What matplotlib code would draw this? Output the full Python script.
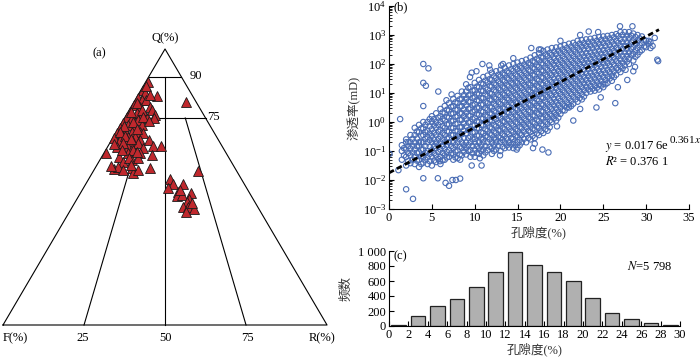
import matplotlib
matplotlib.use('Agg')
import matplotlib.pyplot as plt
from matplotlib.ticker import FixedLocator, FixedFormatter, LogLocator, NullFormatter
import numpy as np

plt.rcParams['font.family'] = ['Liberation Serif', 'Noto Sans CJK SC']
plt.rcParams['mathtext.fontset'] = 'stix'
plt.rcParams['font.size'] = 9

# ---------------- (a) ternary Q-F-R ----------------
# each sample: Q% and R% (F% = 100 - Q - R)
tern_Q = [88.2, 83.0, 80.9, 85.1, 84.2, 82.1, 81.5, 81.5, 79.7, 79.1, 79.1, 77.3, 76.7, 76.7,
          77.9, 76.1, 75.5, 74.9, 74.3, 74.9, 74.9, 73.1, 72.5, 71.9, 72.5, 71.3, 70.7, 70.0,
          70.0, 69.4, 68.8, 68.2, 68.2, 69.4, 67.6, 67.0, 67.0, 66.4, 67.0, 67.0, 64.6, 64.6,
          64.6, 65.8, 64.0, 64.9, 65.0, 62.4, 62.2, 63.4, 62.2, 61.6, 61.0, 58.9, 59.8, 60.4,
          56.4, 57.4, 56.2, 56.8, 55.0, 56.2, 56.8, 55.8,
          52.9, 51.0, 49.8, 51.0, 48.3, 46.7, 47.1, 47.9, 45.5, 44.7, 42.9, 42.6, 41.9, 40.8,
          44.1, 48.9,
          86.5, 83.5, 80.5, 78.0, 77.0, 75.5, 73.5, 72.0, 71.0, 69.8, 68.5, 67.5, 66.0, 65.5,
          63.5, 62.8, 60.5, 58.0, 57.5, 74.0]
tern_R = [0.5, 5.9, 16.0, 0.5, 1.7, 0.5, 2.0, 3.5, 0.5, 2.7, 5.8, 0.5, 2.9, 4.9,
          6.9, 8.9, 0.5, 2.3, 4.6, 6.9, 9.0, 0.5, 2.4, 4.8, 6.5, 0.5, 2.3, 4.7,
          7.3, 0.5, 2.2, 4.6, 6.6, 8.6, 0.5, 2.6, 4.7, 7.0, 8.8, 11.4, 2.8, 6.4,
          7.9, 8.9, 11.3, 13.7, 16.2, 0.5, 7.6, 8.5, 11.2, 15.1, 5.3, 7.7, 9.8, 11.6,
          5.9, 6.9, 9.0, 11.3, 12.7, 13.7, 17.0, 32.2,
          25.1, 27.1, 26.1, 30.0, 30.0, 30.2, 31.6, 34.0, 34.7, 34.5, 34.0, 35.9, 38.0, 36.0,
          36.2, 30.2,
          1.0, 3.5, 1.0, 4.0, 1.0, 5.5, 3.5, 1.2, 5.8, 1.3, 3.4, 5.8, 4.0, 1.5,
          5.0, 10.0, 8.5, 10.5, 4.5, 8.0]

# ---------------- (b) porosity vs permeability ----------------
# log10 permeability (mD), read column by column; first set at phi = 1.5, 2.0 ... 30.5 %
phi_cols_a = np.arange(1.5, 30.75, 0.5)
logk_cols_a = [
    [-0.8, -1.0, -1.3],
    [-0.6, -0.7, -0.95, -1.2, -1.5],
    [-0.45, -0.7, -0.92, -1.15, -1.42],
    [-0.2, -0.45, -0.7, -0.95, -1.2, -1.45],
    [-0.1, -0.35, -0.7, -0.82, -1.05, -1.3, -1.55],
    [0.0, -0.22, -0.45, -0.7, -0.95, -1.2, -1.4],
    [0.0, -0.3, -0.52, -0.7, -1.0, -1.22, -1.45],
    [0.2, 0.0, -0.25, -0.48, -0.7, -0.97, -1.2, -1.5],
    [0.3, 0.0, -0.2, -0.45, -0.7, -0.9, -1.15, -1.38],
    [0.45, 0.2, 0.0, -0.27, -0.5, -0.7, -0.95, -1.2, -1.45],
    [0.55, 0.3, 0.05, -0.2, -0.45, -0.7, -0.92, -1.15, -1.3],
    [0.65, 0.4, 0.15, -0.08, -0.33, -0.55, -0.7, -0.97, -1.2],
    [0.8, 0.55, 0.3, 0.05, -0.2, -0.45, -0.7, -0.9, -1.12, -1.3],
    [0.9, 0.65, 0.42, 0.2, -0.05, -0.3, -0.5, -0.7, -0.98, -1.25],
    [1.05, 0.8, 0.55, 0.3, 0.08, -0.17, -0.42, -0.7, -0.9, -1.15],
    [1.3, 1.05, 0.8, 0.58, 0.33, 0.1, -0.15, -0.4, -0.7, -0.9, -1.12],
    [1.2, 0.95, 0.7, 0.47, 0.22, 0.0, -0.25, -0.5, -0.7, -0.97, -1.2],
    [1.35, 1.1, 0.87, 0.62, 0.4, 0.15, -0.1, -0.35, -0.58, -0.7, -0.95, -1.2],
    [1.45, 1.2, 0.95, 0.73, 0.48, 0.25, 0.0, -0.22, -0.47, -0.7, -0.9, -1.1],
    [1.55, 1.3, 1.07, 0.82, 0.6, 0.35, 0.12, -0.12, -0.38, -0.6, -0.7, -0.95, -1.15],
    [1.6, 1.37, 1.12, 0.9, 0.65, 0.42, 0.18, -0.05, -0.3, -0.52, -0.7, -0.97],
    [1.7, 1.45, 1.22, 0.97, 0.75, 0.5, 0.27, 0.02, -0.22, -0.45, -0.7, -0.9, -1.1],
    [1.75, 1.52, 1.28, 1.05, 0.8, 0.57, 0.33, 0.1, -0.15, -0.38, -0.6, -0.7, -0.95],
    [1.8, 1.57, 1.33, 1.1, 0.87, 0.62, 0.4, 0.15, -0.08, -0.3, -0.55, -0.7, -1.0],
    [1.87, 1.63, 1.4, 1.17, 0.93, 0.7, 0.46, 0.22, 0.0, -0.25, -0.48, -0.7, -0.9],
    [1.95, 1.7, 1.47, 1.23, 1.0, 0.77, 0.53, 0.3, 0.05, -0.18, -0.42, -0.7, -0.88],
    [2.0, 1.76, 1.52, 1.3, 1.06, 0.82, 0.6, 0.35, 0.12, -0.12, -0.35, -0.58, -0.7, -0.9],
    [2.05, 1.82, 1.58, 1.35, 1.12, 0.88, 0.65, 0.42, 0.18, -0.05, -0.3, -0.52, -0.7, -0.88],
    [2.1, 1.87, 1.63, 1.4, 1.17, 0.93, 0.7, 0.47, 0.23, 0.0, -0.22, -0.45, -0.7],
    [2.15, 1.92, 1.68, 1.45, 1.22, 0.98, 0.75, 0.52, 0.28, 0.05, -0.18, -0.42, -0.7],
    [2.22, 1.98, 1.75, 1.52, 1.28, 1.05, 0.82, 0.58, 0.35, 0.12, -0.12, -0.35, -0.6],
    [2.3, 2.06, 1.83, 1.6, 1.36, 1.13, 0.9, 0.66, 0.43, 0.2, -0.05, -0.28, -0.55],
    [2.37, 2.13, 1.9, 1.67, 1.43, 1.2, 0.97, 0.73, 0.5, 0.27, 0.03, -0.2, -0.45],
    [2.45, 2.22, 1.98, 1.75, 1.52, 1.28, 1.05, 0.82, 0.58, 0.35, 0.12, -0.12, -0.38],
    [2.5, 2.27, 2.03, 1.8, 1.57, 1.33, 1.1, 0.87, 0.63, 0.4, 0.17, -0.07, -0.3],
    [2.55, 2.32, 2.08, 1.85, 1.62, 1.38, 1.15, 0.92, 0.68, 0.45, 0.22, 0.0],
    [2.57, 2.34, 2.1, 1.87, 1.64, 1.4, 1.17, 0.94, 0.7, 0.47, 0.25, 0.05],
    [2.6, 2.37, 2.13, 1.9, 1.67, 1.43, 1.2, 0.97, 0.73, 0.5, 0.28],
    [2.65, 2.42, 2.18, 1.95, 1.72, 1.48, 1.25, 1.02, 0.78, 0.55, 0.4],
    [2.7, 2.47, 2.23, 2.0, 1.77, 1.53, 1.3, 1.07, 0.83, 0.6, 0.5],
    [2.73, 2.5, 2.27, 2.03, 1.8, 1.57, 1.33, 1.1, 0.87, 0.63],
    [2.8, 2.56, 2.33, 2.1, 1.86, 1.63, 1.4, 1.16, 0.93, 0.7],
    [2.82, 2.6, 2.36, 2.13, 1.9, 1.66, 1.43, 1.2, 0.96, 0.78],
    [2.85, 2.62, 2.38, 2.15, 1.92, 1.68, 1.45, 1.22, 1.0],
    [2.87, 2.64, 2.4, 2.17, 1.94, 1.7, 1.47, 1.24, 1.05],
    [2.9, 2.67, 2.43, 2.2, 1.97, 1.73, 1.5, 1.27, 1.08],
    [2.93, 2.7, 2.46, 2.23, 2.0, 1.76, 1.53, 1.3, 1.12],
    [2.95, 2.72, 2.48, 2.25, 2.02, 1.78, 1.55, 1.32, 1.2],
    [2.97, 2.74, 2.5, 2.27, 2.04, 1.8, 1.57, 1.35],
    [3.0, 2.77, 2.53, 2.3, 2.07, 1.83, 1.6, 1.42],
    [3.03, 2.8, 2.56, 2.33, 2.1, 1.86, 1.63],
    [3.1, 2.86, 2.63, 2.4, 2.16, 1.93, 1.72],
    [3.1, 2.87, 2.63, 2.4, 2.17, 1.95],
    [3.1, 2.88, 2.64, 2.4, 2.18, 2.0],
    [3.05, 2.82, 2.58, 2.35, 2.12],
    [3.0, 2.78, 2.55, 2.32],
    [2.95, 2.72, 2.48],
    [2.8, 2.58],
    [2.75, 2.55],
]
# second set, between the first: phi = 1.75, 2.25 ... 30.75 %
phi_cols_b = np.arange(1.75, 31.0, 0.5)
logk_cols_b = [
    [-0.9, -1.15],
    [-0.7, -0.83, -1.07, -1.35],
    [-0.58, -0.82, -1.05, -1.3],
    [-0.33, -0.57, -0.83, -1.07, -1.33],
    [-0.22, -0.47, -0.7, -0.95, -1.18, -1.45],
    [-0.1, -0.35, -0.58, -0.83, -1.07, -1.3],
    [0.1, -0.15, -0.4, -0.62, -0.85, -1.1, -1.35],
    [0.1, -0.12, -0.37, -0.6, -0.83, -1.08, -1.33],
    [0.15, -0.1, -0.33, -0.58, -0.8, -1.03, -1.27],
    [0.33, 0.1, -0.15, -0.38, -0.6, -0.83, -1.07, -1.32],
    [0.42, 0.18, -0.08, -0.32, -0.57, -0.8, -1.03, -1.22],
    [0.52, 0.28, 0.03, -0.2, -0.45, -0.83, -1.08],
    [0.68, 0.43, 0.18, -0.07, -0.32, -0.57, -0.8, -1.02, -1.22],
    [0.78, 0.53, 0.3, 0.08, -0.18, -0.4, -0.6, -0.85, -1.12],
    [0.93, 0.68, 0.43, 0.2, -0.05, -0.3, -0.55, -0.8, -1.02],
    [1.18, 0.92, 0.7, 0.45, 0.22, -0.02, -0.28, -0.55, -0.8, -1.0],
    [1.08, 0.83, 0.58, 0.35, 0.1, -0.12, -0.37, -0.6, -0.83, -1.08],
    [1.22, 0.98, 0.75, 0.5, 0.28, 0.03, -0.22, -0.47, -0.83, -1.07],
    [1.33, 1.08, 0.83, 0.6, 0.37, 0.12, -0.1, -0.35, -0.58, -0.8, -1.0],
    [1.43, 1.18, 0.95, 0.7, 0.48, 0.23, 0.0, -0.25, -0.48, -0.83, -1.05],
    [1.48, 1.25, 1.0, 0.78, 0.53, 0.3, 0.06, -0.18, -0.4, -0.6, -0.85],
    [1.58, 1.33, 1.1, 0.85, 0.63, 0.38, 0.15, -0.1, -0.33, -0.57, -0.8, -1.0],
    [1.63, 1.4, 1.16, 0.93, 0.68, 0.45, 0.22, -0.03, -0.27, -0.5, -0.82],
    [1.68, 1.45, 1.22, 0.98, 0.75, 0.5, 0.27, 0.03, -0.2, -0.42, -0.62, -0.85],
    [1.75, 1.52, 1.28, 1.05, 0.82, 0.58, 0.34, 0.1, -0.12, -0.36, -0.58, -0.8],
    [1.82, 1.58, 1.35, 1.12, 0.88, 0.65, 0.42, 0.18, -0.06, -0.3, -0.55, -0.78],
    [1.88, 1.64, 1.4, 1.18, 0.94, 0.7, 0.47, 0.23, 0.0, -0.24, -0.47, -0.8],
    [1.93, 1.7, 1.47, 1.23, 1.0, 0.77, 0.53, 0.3, 0.06, -0.17, -0.4, -0.62, -0.8],
    [1.98, 1.75, 1.52, 1.28, 1.05, 0.82, 0.58, 0.35, 0.12, -0.1, -0.33, -0.58],
    [2.03, 1.8, 1.57, 1.33, 1.1, 0.87, 0.63, 0.4, 0.17, -0.06, -0.3, -0.55],
    [2.1, 1.87, 1.63, 1.4, 1.17, 0.93, 0.7, 0.47, 0.23, 0.0, -0.23, -0.48],
    [2.18, 1.95, 1.72, 1.48, 1.25, 1.02, 0.78, 0.55, 0.32, 0.08, -0.16, -0.4],
    [2.25, 2.02, 1.78, 1.55, 1.32, 1.08, 0.85, 0.62, 0.38, 0.15, -0.08, -0.32],
    [2.33, 2.1, 1.87, 1.63, 1.4, 1.17, 0.93, 0.7, 0.47, 0.23, 0.0, -0.25],
    [2.38, 2.15, 1.92, 1.68, 1.45, 1.22, 0.98, 0.75, 0.52, 0.28, 0.05, -0.18],
    [2.43, 2.2, 1.97, 1.73, 1.5, 1.27, 1.03, 0.8, 0.57, 0.33, 0.12],
    [2.46, 2.22, 1.99, 1.76, 1.52, 1.29, 1.06, 0.82, 0.59, 0.36, 0.15],
    [2.5, 2.27, 2.03, 1.8, 1.57, 1.33, 1.1, 0.87, 0.63, 0.4],
    [2.55, 2.32, 2.08, 1.85, 1.62, 1.38, 1.15, 0.92, 0.68, 0.5],
    [2.6, 2.37, 2.13, 1.9, 1.67, 1.43, 1.2, 0.97, 0.73, 0.55],
    [2.65, 2.42, 2.18, 1.95, 1.72, 1.48, 1.25, 1.02, 0.78],
    [2.7, 2.47, 2.23, 2.0, 1.77, 1.53, 1.3, 1.07, 0.83],
    [2.72, 2.5, 2.26, 2.03, 1.8, 1.56, 1.33, 1.1, 0.88],
    [2.75, 2.52, 2.28, 2.05, 1.82, 1.58, 1.35, 1.12],
    [2.77, 2.54, 2.3, 2.07, 1.84, 1.6, 1.37, 1.15],
    [2.8, 2.57, 2.33, 2.1, 1.87, 1.63, 1.4, 1.18],
    [2.83, 2.6, 2.36, 2.13, 1.9, 1.66, 1.43, 1.25],
    [2.85, 2.62, 2.38, 2.15, 1.92, 1.68, 1.45, 1.3],
    [2.88, 2.65, 2.42, 2.18, 1.95, 1.72, 1.5],
    [2.92, 2.68, 2.45, 2.22, 1.98, 1.75, 1.55],
    [2.97, 2.73, 2.5, 2.27, 2.03, 1.8],
    [3.0, 2.75, 2.52, 2.28, 2.05, 1.85],
    [2.98, 2.75, 2.52, 2.28, 2.08],
    [2.98, 2.75, 2.52, 2.3],
    [2.93, 2.7, 2.47, 2.25],
    [2.88, 2.65, 2.42],
    [2.83, 2.6],
    [2.7],
    [2.62],
]
# scattered points away from the main band
phi_out = [0.05, 1.1, 1.3, 2.0, 2.8, 4.0, 4.6, 4.0, 4.3, 5.75, 4.0, 4.0, 5.7, 10.9, 11.7,
           10.2, 9.65, 10.8, 6.6, 7.4, 7.0, 8.3, 7.8, 17.5, 17.7, 13.3, 16.8, 18.6, 17.9,
           21.5, 24.2, 26.4, 26.95, 28.4, 31.3, 30.3, 31.0, 28.7, 28.5, 27.6, 31.4,
           6.7, 7.3, 9.45, 9.65, 11.8, 13.1, 14.5, 16.6, 20.0, 22.3, 23.3, 24.4,
           5.95, 8.3, 10.6, 12.95, 14.9, 17.0, 19.6, 22.3, 24.7, 26.7, 27.8]
logk_out = [-1.1, -1.66, 0.1, -2.32, -2.65, 2.0, 1.85, 1.35, 1.25, 1.05, 0.55, -1.94,
            -1.94, 2.0, 1.95, 1.75, -1.5, -1.5, -2.1, -2.0, -2.2, -1.95, -2.0, 2.5, 2.5,
            2.0, -0.9, -1.05, -0.95, 0.05, 0.5, 0.65, 3.3, 3.3, 2.15, 2.8, 2.9, 1.9, 1.75,
            1.8, 2.1,
            0.75, 0.95, 1.55, 1.7, 1.8, 1.95, 2.2, 2.55, 2.8, 3.0, 3.12, 3.1,
            -1.35, -1.3, -1.25, -1.15, -0.95, -0.75, -0.15, 0.45, 0.85, 1.2, 1.45]
fit_a, fit_b = 0.0176, 0.361

# ---------------- (c) porosity histogram ----------------
bin_left = np.arange(0, 30, 2)
counts = [15, 140, 262, 364, 520, 716, 992, 815, 722, 602, 372, 172, 95, 42, 15]

fig = plt.figure(figsize=(7, 3.57), dpi=100)

# ===== (a) =====
ax_a = fig.add_axes([0, 0, 340/700, 1])
ax_a.set_xlim(-0.93, 104.0)
ax_a.set_ylim(-10.04, 101.97)
ax_a.axis('off')
h = np.sqrt(3)/2
lw = 0.8
ax_a.plot([0, 100, 50, 0], [0, 0, 100*h, 0], color='k', lw=lw)
ax_a.plot([45, 55], [90*h, 90*h], color='k', lw=lw)
ax_a.plot([37.5, 62.5], [75*h, 75*h], color='k', lw=lw)
ax_a.plot([50, 50], [0, 90*h], color='k', lw=lw)
ax_a.plot([25, 6.25+37.5], [0, 75*h], color='k', lw=lw)
ax_a.plot([75, 18.75+37.5], [0, 75*h], color='k', lw=lw)
Q = np.array(tern_Q)
R = np.array(tern_R)
ax_a.plot(R + Q/2, Q*h, ls='none', marker='^', ms=7.4, mfc='#c0282d', mec='#1a1a1a', mew=0.6)
ax_a.text(50, 90.0, 'Q(%)', ha='center', va='center', fontsize=9)
ax_a.text(29.6, 85.3, '(a)', ha='center', va='center', fontsize=9)
ax_a.text(57.7, 78.1, '90', ha='left', va='center', fontsize=9)
ax_a.text(63.0, 65.3, '75', ha='left', va='center', fontsize=9)
for xx, s in [(3.7, 'F(%)'), (24.7, '25'), (50, '50'), (75.3, '75'), (98.5, 'R(%)')]:
    ax_a.text(xx, -4.1, s, ha='center', va='center', fontsize=9)

# ===== (b) =====
ax_b = fig.add_axes([389/700, 1-209/357, 300/700, 203/357])
xs, ys = [], []
for cols_x, cols_y in [(phi_cols_a, logk_cols_a), (phi_cols_b, logk_cols_b)]:
    for p, col in zip(cols_x, cols_y):
        xs += [p]*len(col)
        ys += col
xs += phi_out
ys += logk_out
ax_b.scatter(xs, 10**np.array(ys), s=15, facecolors='none', edgecolors='#4a6db5',
             linewidths=0.8, zorder=2)
xf = np.linspace(0, 31.5, 100)
ax_b.plot(xf, fit_a*np.exp(fit_b*xf), color='k', lw=2, dashes=(2, 1.2), zorder=3)
ax_b.set_yscale('log')
ax_b.set_xlim(0, 35)
ax_b.set_ylim(1e-3, 1e4)
ax_b.xaxis.set_major_locator(FixedLocator(range(0, 36, 5)))
ax_b.yaxis.set_major_locator(LogLocator(base=10, numticks=10))
ax_b.yaxis.set_minor_locator(LogLocator(base=10, subs=np.arange(2, 10), numticks=20))
ax_b.yaxis.set_minor_formatter(NullFormatter())
for s in ['top', 'right']:
    ax_b.spines[s].set_visible(False)
ax_b.tick_params(axis='both', direction='in', labelsize=9, pad=2, width=0.8)
ax_b.tick_params(axis='y', which='minor', direction='in', length=2)
ax_b.set_xlabel('孔隙度(%)', fontsize=9, labelpad=1, color='#333333')
ax_b.set_ylabel('渗透率(mD)', fontsize=9, labelpad=1, color='#333333')
ax_b.text(1.4, 10**3.95, '(b)', ha='center', va='center', fontsize=9)
t_fit = ax_b.text(25.2, 10**-0.85, '$y$ = 0.017 6e', ha='left', va='center', fontsize=9)
ax_b.annotate('0.361$x$', xy=(1.0, 0.6), xycoords=t_fit, ha='left', va='bottom', fontsize=8)
ax_b.text(25.2, 10**-1.35, '$R$² = 0.376 1', ha='left', va='center', fontsize=9)

# ===== (c) =====
ax_c = fig.add_axes([389/700, 1-326/357, 291/700, 75/357])
ax_c.bar(bin_left + 1, counts, width=1.5, color='#b0b0b0', edgecolor='#222222', linewidth=0.9)
ax_c.set_xlim(0, 30)
ax_c.set_ylim(0, 1000)
ax_c.xaxis.set_major_locator(FixedLocator(range(0, 31, 2)))
ax_c.yaxis.set_major_locator(FixedLocator(range(0, 1001, 200)))
ax_c.yaxis.set_major_formatter(FixedFormatter(['0', '200', '400', '600', '800', '1 000']))
for s in ['top', 'right']:
    ax_c.spines[s].set_visible(False)
ax_c.tick_params(axis='both', direction='in', labelsize=9, pad=2, width=0.8)
ax_c.set_xlabel('孔隙度(%)', fontsize=9, labelpad=1, color='#333333')
ax_c.set_ylabel('频数', fontsize=9, labelpad=4, color='#333333')
ax_c.text(1.2, 925, '(c)', ha='center', va='center', fontsize=9)
ax_c.text(29.2, 800, '$N$=5 798', ha='right', va='center', fontsize=9)

fig.savefig('out.png', dpi=100)
